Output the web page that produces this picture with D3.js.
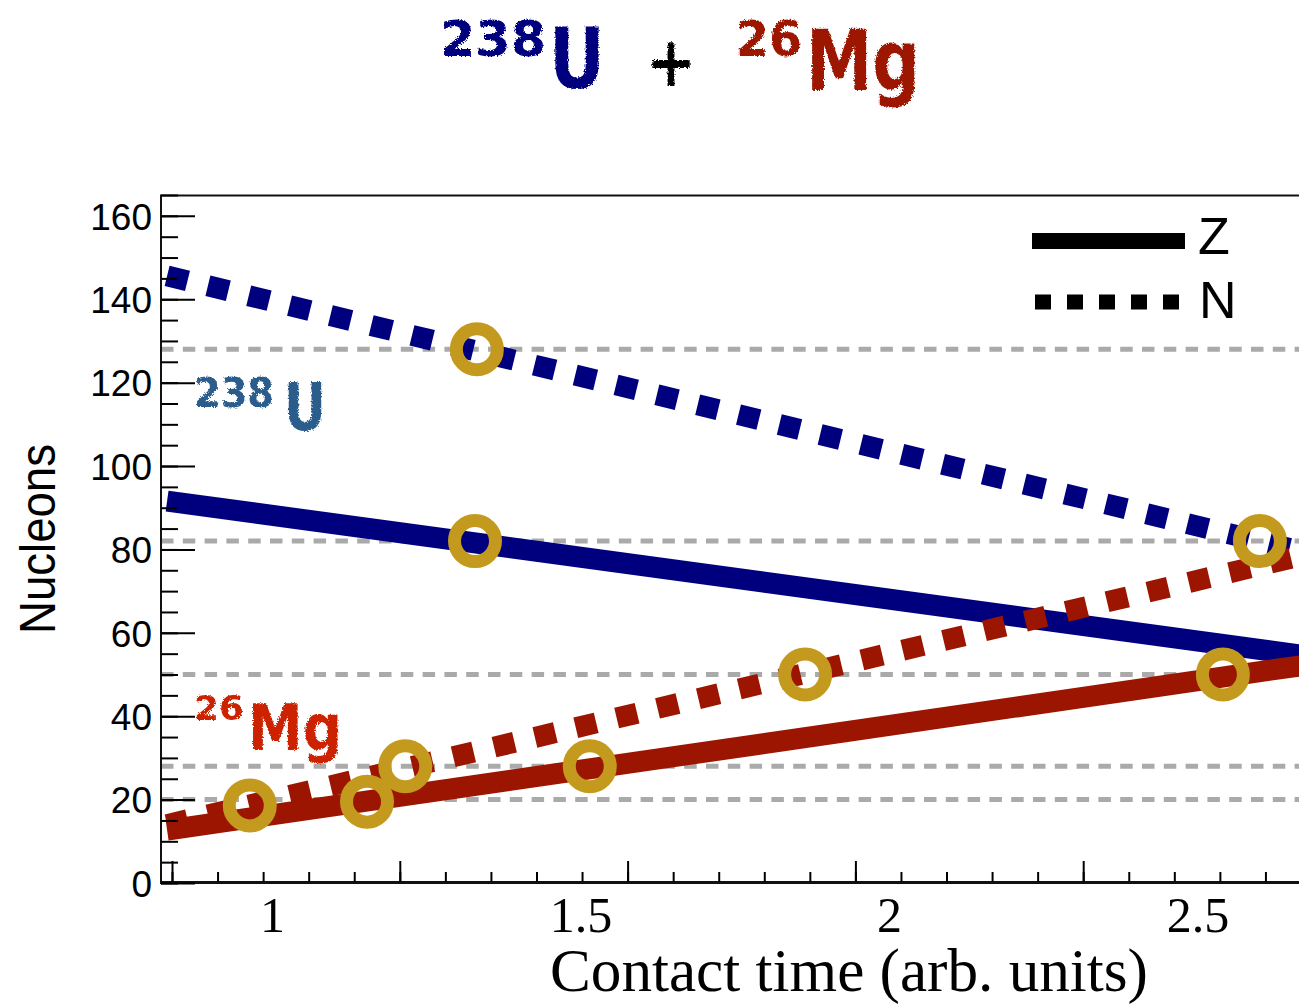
<!DOCTYPE html>
<html><head><meta charset="utf-8">
<script src="https://cdn.jsdelivr.net/npm/d3@7"></script>
<style>body{margin:0;background:#fff;overflow:hidden} svg{display:block}</style>
</head><body>
<svg id="c" width="1299" height="1005"></svg>
<script>
// ---- data ----
const xLabelValues = [1, 1.5, 2, 2.5];
const yMajorTicks = [0, 20, 40, 60, 80, 100, 120, 140, 160];
const yMinorTicks = d3.range(0, 166, 5);
const xMajorTicks = [0, 1, 2, 3, 4, 5];            // axis tick marks (own scale)
const xMinorTicks = d3.range(0, 5.01, 0.2);
const zU  = [[0.83, 91.6], [2.70, 54.0]];
const nU  = [[0.83, 145.6], [2.70, 78.4]];
const zMg = [[0.83, 12.7], [2.70, 52.8]];
const nMg = [[0.83, 14.0], [2.70, 79.6]];
const levels = [128, 82, 50, 28, 20];
const markT = [1.332, 1.329, 2.601, 2.541, 1.864, 0.964, 1.154, 1.216, 1.515];
const markV = [128, 82, 82, 50, 50, 18.6, 19.5, 28, 28];

// ---- layout ----
const svg = d3.select('#c');
const x = d3.scaleLinear().domain([0.8185, 2.70]).range([160, 1321]);
const xt = d3.scaleLinear().domain([0, 5]).range([172, 1311]);
const y = d3.scaleLinear().domain([0, 165]).range([883, 195]);
const BLUE = '#00007f', RED = '#9c1500', GOLD = '#c49a1e';

const defs = svg.append('defs');
const f = defs.append('filter').attr('id', 'rough').attr('x', '-10%').attr('y', '-10%').attr('width', '120%').attr('height', '120%');
f.append('feTurbulence').attr('type', 'fractalNoise').attr('baseFrequency', 0.7).attr('numOctaves', 2).attr('result', 'n');
f.append('feDisplacementMap').attr('in', 'SourceGraphic').attr('in2', 'n').attr('scale', 4);

// grey level lines
svg.append('g').selectAll('line').data(levels).join('line')
  .attr('x1', 161).attr('x2', 1320).attr('y1', d => y(d)).attr('y2', d => y(d))
  .attr('stroke', '#aaaaaa').attr('stroke-width', 5).attr('stroke-dasharray', '12.5 9.3');

// lines
const line = d3.line().x(d => x(d[0])).y(d => y(d[1]));
const series = [
  {d: nU, c: BLUE, dash: '21 21'},
  {d: zU, c: BLUE, dash: null},
  {d: nMg, c: RED, dash: '21 21'},
  {d: zMg, c: RED, dash: null}
];
svg.append('g').selectAll('path').data(series).join('path')
  .attr('d', s => line(s.d)).attr('fill', 'none').attr('stroke', s => s.c)
  .attr('stroke-width', 21).attr('stroke-linecap', 'butt')
  .attr('stroke-dasharray', s => s.dash);

// circles
svg.append('g').selectAll('circle').data(markT).join('circle')
  .attr('cx', d => x(d)).attr('cy', (d, i) => y(markV[i])).attr('r', 20.5)
  .attr('fill', 'none').attr('stroke', GOLD).attr('stroke-width', 13);

// frame
svg.append('line').attr('x1', 160).attr('x2', 1299).attr('y1', 195.5).attr('y2', 195.5).attr('stroke', '#111').attr('stroke-width', 2);
svg.append('line').attr('x1', 161).attr('x2', 161).attr('y1', 195).attr('y2', 884).attr('stroke', '#111').attr('stroke-width', 2);
svg.append('line').attr('x1', 160).attr('x2', 1299).attr('y1', 882.5).attr('y2', 882.5).attr('stroke', '#111').attr('stroke-width', 3);

// y axis
const ga = svg.append('g').attr('transform', 'translate(161,0)');
ga.append('g').call(d3.axisLeft(y).tickValues(yMinorTicks).tickSizeInner(-17).tickSizeOuter(0).tickFormat(''))
  .call(g => g.select('.domain').remove()).selectAll('line').attr('stroke-width', 2);
ga.append('g').call(d3.axisLeft(y).tickValues(yMajorTicks).tickSizeInner(-34).tickSizeOuter(0).tickPadding(9))
  .call(g => g.select('.domain').remove())
  .call(g => g.selectAll('line').attr('stroke-width', 2))
  .call(g => g.selectAll('text').attr('font-family', 'Liberation Sans, Arial, sans-serif').attr('font-size', 37).attr('fill', '#000').attr('dy', '0.36em'));

// x axis tick marks
const gx = svg.append('g').attr('transform', 'translate(0,882)');
gx.append('g').call(d3.axisBottom(xt).tickValues(xMinorTicks).tickSizeInner(-10).tickSizeOuter(0).tickFormat(''))
  .call(g => g.select('.domain').remove()).selectAll('line').attr('stroke-width', 2);
gx.append('g').call(d3.axisBottom(xt).tickValues(xMajorTicks).tickSizeInner(-21).tickSizeOuter(0).tickFormat(''))
  .call(g => g.select('.domain').remove()).selectAll('line').attr('stroke-width', 2);
// x labels
gx.append('g').call(d3.axisBottom(x).tickValues(xLabelValues).tickSize(0).tickPadding(14).tickFormat(d3.format('')))
  .call(g => g.select('.domain').remove())
  .call(g => g.selectAll('text').attr('font-family', 'Liberation Serif, Times New Roman, serif').attr('font-size', 50).attr('fill', '#000'));

// axis titles
svg.append('text').attr('x', 550).attr('y', 991).attr('textLength', 598).attr('lengthAdjust', 'spacingAndGlyphs')
  .attr('font-family', 'Liberation Serif, Times New Roman, serif').attr('font-size', 61).text('Contact time (arb. units)');
svg.append('text').attr('transform', 'translate(55,539) rotate(-90)').attr('text-anchor', 'middle')
  .attr('font-family', 'Liberation Sans, Arial, sans-serif').attr('font-size', 50)
  .attr('textLength', 190).attr('lengthAdjust', 'spacingAndGlyphs').text('Nucleons');

// legend
svg.append('line').attr('x1', 1032).attr('x2', 1185).attr('y1', 241).attr('y2', 241).attr('stroke', '#000').attr('stroke-width', 16);
svg.append('line').attr('x1', 1035).attr('x2', 1181).attr('y1', 302).attr('y2', 302).attr('stroke', '#000').attr('stroke-width', 15).attr('stroke-dasharray', '16 16');
svg.append('text').attr('x', 1198).attr('y', 254).attr('font-family', 'Liberation Sans, Arial, sans-serif').attr('font-size', 52).text('Z');
svg.append('text').attr('x', 1199).attr('y', 318).attr('font-family', 'Liberation Sans, Arial, sans-serif').attr('font-size', 52).text('N');

// handwritten-style labels
const hand = 'DejaVu Sans, sans-serif';
function hw(txt, xx, yy, size, color, len) {
  const t = svg.append('text').attr('x', xx).attr('y', yy).attr('font-family', hand).attr('font-weight', 'bold')
    .attr('font-size', size).attr('fill', color).attr('filter', 'url(#rough)').text(txt);
  if (len) t.attr('textLength', len).attr('lengthAdjust', 'spacingAndGlyphs');
  return t;
}
// title
hw('238', 440, 56, 50, BLUE, 106);
hw('U', 549, 88, 84, BLUE, 56);
hw('+', 646, 86, 70, '#000', 50);
hw('26', 736, 56, 50, RED, 66);
hw('Mg', 806, 90, 84, RED, 114);
// in-plot labels
hw('238', 194, 407, 40, '#2a5b8c', 80);
hw('U', 284, 430, 66, '#2a5b8c', 42);
hw('26', 194, 720, 34, '#cc2200', 50);
hw('Mg', 248, 750, 64, '#cc2200', 94);
</script>
</body></html>
